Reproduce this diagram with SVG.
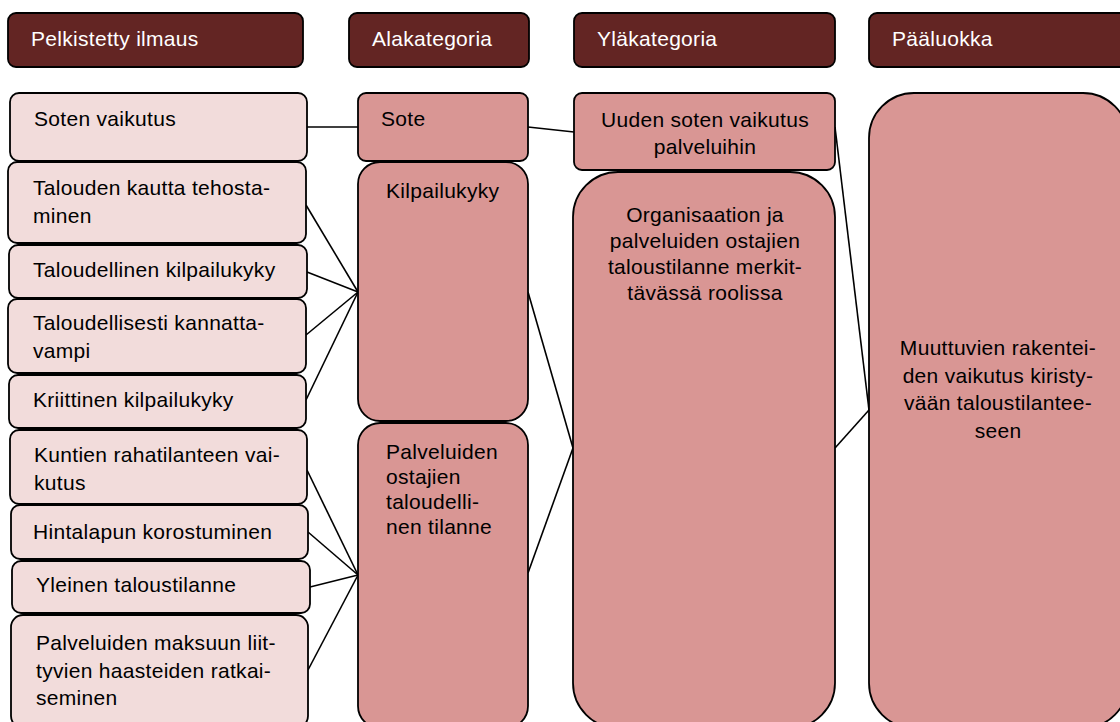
<svg xmlns="http://www.w3.org/2000/svg" width="1120" height="722" viewBox="0 0 1120 722">
  <style>
    text { font-family: "Liberation Sans", Arial, sans-serif; font-size: 21px; letter-spacing: 0.3px; fill: #000; }
    .head rect { fill: #632523; stroke: #000; stroke-width: 1.8; }
    .head text { fill: #ffffff; }
    .expr rect { fill: #F2DCDB; stroke: #000; stroke-width: 1.8; }
    .cat rect { fill: #D99694; stroke: #000; stroke-width: 1.8; }
    .mid { text-anchor: middle; }
    #connectors line { stroke: #000; stroke-width: 1.6; }
  </style>
  <rect width="1120" height="722" fill="#ffffff"/>

  <!-- column headers -->
  <g id="h-pelkistetty" class="head"><rect x="8" y="13" width="295" height="54" rx="8"/><text x="31" y="46">Pelkistetty ilmaus</text></g>
  <g id="h-alakategoria" class="head"><rect x="349" y="13" width="180" height="54" rx="8"/><text x="372" y="46">Alakategoria</text></g>
  <g id="h-ylakategoria" class="head"><rect x="574" y="13" width="261" height="54" rx="8"/><text x="597" y="46">Yläkategoria</text></g>
  <g id="h-paaluokka" class="head"><rect x="869" y="13" width="270" height="54" rx="8"/><text x="892" y="46">Pääluokka</text></g>

  <!-- connectors -->
  <g id="connectors">
    <line x1="307" y1="127" x2="358" y2="127"/>
    <line x1="528" y1="127" x2="574" y2="132"/>
    <line x1="306" y1="205" x2="358" y2="292"/>
    <line x1="307" y1="272" x2="358" y2="292"/>
    <line x1="306" y1="335" x2="358" y2="292"/>
    <line x1="306" y1="400" x2="358" y2="292"/>
    <line x1="307" y1="470" x2="358" y2="575"/>
    <line x1="308" y1="532" x2="358" y2="575"/>
    <line x1="310" y1="587" x2="358" y2="575"/>
    <line x1="308" y1="670" x2="358" y2="575"/>
    <line x1="528" y1="292" x2="573" y2="448"/>
    <line x1="528" y1="573" x2="573" y2="448"/>
    <line x1="835" y1="127" x2="869" y2="410"/>
    <line x1="835" y1="448" x2="869" y2="410"/>
  </g>

  <!-- simplified expressions -->
  <g id="e-soten-vaikutus" class="expr"><rect x="10" y="93" width="297" height="68" rx="9"/><text x="34" y="126">Soten vaikutus</text></g>
  <g id="e-talouden-kautta" class="expr"><rect x="8" y="162" width="298" height="81" rx="9"/><text x="33" y="195">Talouden kautta tehosta-</text><text x="33" y="223">minen</text></g>
  <g id="e-taloudellinen-kilpailukyky" class="expr"><rect x="9" y="245" width="298" height="53" rx="9"/><text x="33" y="277">Taloudellinen kilpailukyky</text></g>
  <g id="e-kannattavampi" class="expr"><rect x="8" y="299" width="298" height="74" rx="9"/><text x="33" y="330">Taloudellisesti kannatta-</text><text x="33" y="358">vampi</text></g>
  <g id="e-kriittinen" class="expr"><rect x="9" y="375" width="297" height="53" rx="9"/><text x="33" y="407">Kriittinen kilpailukyky</text></g>
  <g id="e-kuntien" class="expr"><rect x="10" y="430" width="297" height="74" rx="9"/><text x="34" y="462">Kuntien rahatilanteen vai-</text><text x="34" y="490">kutus</text></g>
  <g id="e-hintalapun" class="expr"><rect x="11" y="505" width="297" height="54" rx="9"/><text x="33" y="539">Hintalapun korostuminen</text></g>
  <g id="e-yleinen" class="expr"><rect x="12" y="561" width="298" height="52" rx="9"/><text x="36" y="592">Yleinen taloustilanne</text></g>
  <g id="e-maksuun" class="expr"><rect x="11" y="615" width="297" height="113" rx="12"/><text x="36" y="650">Palveluiden maksuun liit-</text><text x="36" y="678">tyvien haasteiden ratkai-</text><text x="36" y="705">seminen</text></g>

  <!-- subcategories -->
  <g id="a-sote" class="cat"><rect x="358" y="93" width="170" height="68" rx="8"/><text x="381" y="126">Sote</text></g>
  <g id="a-kilpailukyky" class="cat"><rect x="358" y="162" width="170" height="259" rx="22"/><text x="386" y="198">Kilpailukyky</text></g>
  <g id="a-ostajien-tilanne" class="cat"><rect x="358" y="423" width="170" height="305" rx="22"/><text x="386" y="459">Palveluiden</text><text x="386" y="484">ostajien</text><text x="386" y="509">taloudelli-</text><text x="386" y="534">nen tilanne</text></g>

  <!-- upper categories -->
  <g id="y-uuden-soten" class="cat"><rect x="574" y="93" width="261" height="77" rx="8"/><text class="mid" x="705" y="127">Uuden soten vaikutus</text><text class="mid" x="705" y="154">palveluihin</text></g>
  <g id="y-organisaation" class="cat"><rect x="573" y="172" width="262" height="556" rx="45"/><text class="mid" x="705" y="222">Organisaation ja</text><text class="mid" x="705" y="248">palveluiden ostajien</text><text class="mid" x="705" y="274">taloustilanne merkit-</text><text class="mid" x="705" y="300">tävässä roolissa</text></g>

  <!-- main class -->
  <g id="p-muuttuvien" class="cat"><rect x="869" y="93" width="259" height="635" rx="45"/><text class="mid" x="998" y="355">Muuttuvien rakentei-</text><text class="mid" x="998" y="383">den vaikutus kiristy-</text><text class="mid" x="998" y="410">vään taloustilantee-</text><text class="mid" x="998" y="438">seen</text></g>
</svg>
